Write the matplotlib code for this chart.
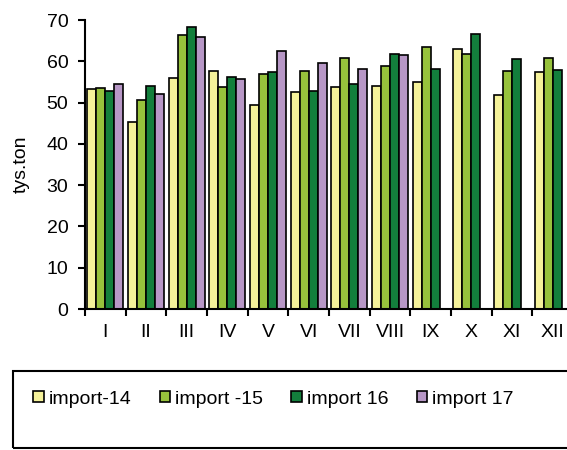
import matplotlib.pyplot as plt
import matplotlib.patches as mpatches
import numpy as np

plt.rcParams['font.family'] = ['Liberation Sans', 'DejaVu Sans']

months = ['I', 'II', 'III', 'IV', 'V', 'VI', 'VII', 'VIII', 'IX', 'X', 'XI', 'XII']
import_14 = [53.2, 45.2, 55.9, 57.7, 49.5, 52.5, 53.8, 54.1, 55.0, 63.0, 51.9, 57.5]
import_15 = [53.6, 50.6, 66.4, 53.8, 56.8, 57.6, 60.9, 58.8, 63.4, 61.8, 57.6, 60.9]
import_16 = [52.9, 54.0, 68.2, 56.2, 57.3, 52.9, 54.6, 61.7, 58.1, 66.5, 60.6, 58.0]
import_17 = [54.4, 52.0, 65.8, 55.6, 62.4, 59.6, 58.1, 61.6, np.nan, np.nan, np.nan, np.nan]

series = [import_14, import_15, import_16, import_17]
labels = ['import-14', 'import -15', 'import 16', 'import 17']
colors = ['#F5F29A', '#97C23C', '#137F3C', '#B797C6']

fig = plt.figure(figsize=(5.67, 4.5), dpi=100)
ax = fig.add_axes([85 / 567, 1 - 309 / 450, 488 / 567, 289 / 450])

x = np.arange(len(months))
w = 0.22
for i, (vals, lab, col) in enumerate(zip(series, labels, colors)):
    ax.bar(x + (i - 1.5) * w, vals, width=w, color=col, edgecolor='black',
           linewidth=1.2, label=lab)

ax.set_xlim(-0.5, len(months) - 0.5)
ax.set_ylim(0, 70)
ax.set_yticks(range(0, 71, 10))
ax.set_xticks(np.arange(len(months) + 1) - 0.5)
ax.set_xticklabels([])
ax.set_xticks(x, minor=True)
ax.set_xticklabels(months, minor=True)
ax.tick_params(axis='both', which='major', length=5, width=1.5, direction='out', labelsize=14)
ax.tick_params(axis='y', which='major', pad=7)
ax.tick_params(axis='x', which='minor', length=0, pad=11, labelsize=14)
ax.spines['top'].set_visible(False)
ax.spines['right'].set_visible(False)
ax.spines['left'].set_linewidth(1.5)
ax.spines['bottom'].set_linewidth(1.5)
ax.set_ylabel('tys.ton', fontsize=14, labelpad=12)

# legend box
fig.patches.append(mpatches.Rectangle((12.7 / 567, 2 / 450), 1.0, 77 / 450,
                                      transform=fig.transFigure, fill=False,
                                      edgecolor='black', linewidth=1.5))
fig.legend(loc='center left', bbox_to_anchor=(33 / 567, 1 - 399 / 450), ncol=4,
           frameon=False, fontsize=14, handlelength=0.55, handleheight=0.55,
           handletextpad=0.25, columnspacing=1.45, borderpad=0, borderaxespad=0)

plt.savefig('out.png', dpi=100)
